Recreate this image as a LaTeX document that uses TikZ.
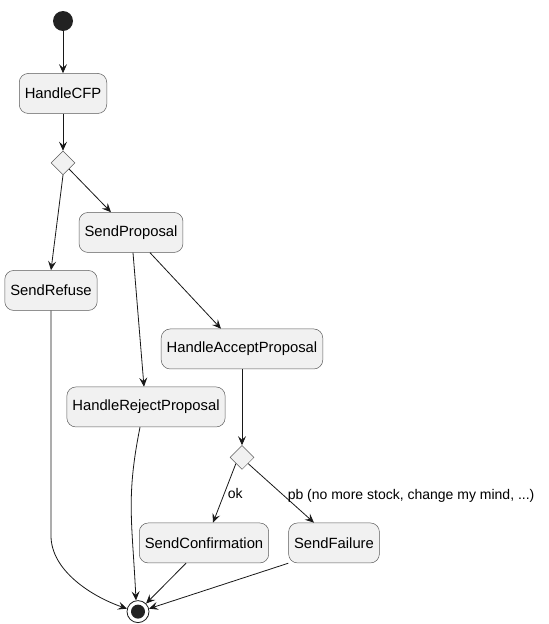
\documentclass[tikz,border=0pt]{standalone}
\usepackage{fontspec}
\setmainfont{Liberation Sans}
\usepackage{tikz}
\usetikzlibrary{
  shapes.geometric,
  arrows.meta,
  positioning
}
\definecolor{BoxFill}{HTML}{F1F1F1}
\definecolor{BoxLine}{HTML}{5A5A5A}
\definecolor{InkDark}{HTML}{181818}
\definecolor{DotFill}{HTML}{222222}
\tikzset{
  % Activity box: rounded, auto width
  act/.style={
    rectangle, rounded corners=9pt,
    draw=BoxLine, fill=BoxFill, line width=0.5pt,
    minimum height=40pt, inner xsep=5.5pt,
    align=center, font=\fontsize{14.8}{17}\selectfont
  },
  % Decision diamond
  dec/.style={
    diamond, aspect=1,
    draw=BoxLine, fill=BoxFill, line width=0.5pt,
    minimum size=24pt, inner sep=0pt
  },
  % Initial node
  startdot/.style={
    circle, fill=DotFill, minimum size=20pt, inner sep=0pt
  },
  % Final node
  enddot/.style={
    circle, draw=InkDark, fill=white, line width=0.8pt,
    minimum size=22pt, inner sep=0pt,
    path picture={\fill[DotFill] (path picture bounding box.center) circle (7pt);}
  },
  % Arrow
  arr/.style={
    -{Stealth[length=9pt,width=8pt,inset=3.5pt]},
    line width=0.8pt, color=InkDark
  },
  % Edge label
  lbl/.style={font=\fontsize{14}{16}\selectfont, color=black, inner sep=3pt}
}

\begin{document}
\begin{tikzpicture}[x=1pt, y=1pt]
  \useasboundingbox (0,0) rectangle (549,-624);

  % Upper flow
  \node[startdot] (start) at (63,-21) {};
  \node[act, below=42pt of start] (cfp) {HandleCFP};
  \node[dec, below=37pt of cfp] (choice) {};
  \node[act, below=37pt of choice, xshift=68pt] (proposal) {SendProposal};
  \node[act, below=95pt of choice, xshift=-12pt] (refuse) {SendRefuse};

  % Accept / reject branch
  \node[act, below=76pt of proposal, xshift=111pt] (accept) {HandleAcceptProposal};
  \node[act, below=134pt of proposal, xshift=15pt] (reject) {HandleRejectProposal};
  \node[dec, below=76pt of accept] (check) {};
  \node[act, below=53pt of check, xshift=-38pt] (confirm) {SendConfirmation};
  \node[act, below=53pt of check, xshift=92pt] (failure) {SendFailure};

  % Final node
  \node[enddot, below=37pt of confirm, xshift=-66pt] (stop) {};

  \draw[arr] (start) -- (cfp);
  \draw[arr] (cfp) -- (choice);
  \draw[arr] (choice.south) -- (refuse.north);
  \draw[arr] (choice.south east) -- ([xshift=-20pt]proposal.north);
  \draw[arr] ([xshift=2pt]proposal.south) -- ([xshift=-2pt]reject.north);
  \draw[arr] ([xshift=19pt]proposal.south) -- ([xshift=-21pt]accept.north);
  \draw[arr] (accept) -- (check);
  \draw[arr] (check.south west) -- node[right,lbl]{ok} ([xshift=9pt]confirm.north);
  \draw[arr] (check.south east) -- node[right,lbl,pos=0.55]{pb (no more stock, change my mind, ...)} ([xshift=-20pt]failure.north);

  % Into the final node
  \draw[arr] (refuse.south) -- ([yshift=-225pt]refuse.south)
    .. controls +(0,-35) and +(-35,12) .. (stop.165);
  \draw[arr] ([xshift=-6pt]reject.south) .. controls +(-14,-70) and +(-4,80) .. (stop.100);
  \draw[arr] ([xshift=-18pt]confirm.south) -- (stop.45);
  \draw[arr] (failure.south west) -- (stop.15);

\end{tikzpicture}
\end{document}
